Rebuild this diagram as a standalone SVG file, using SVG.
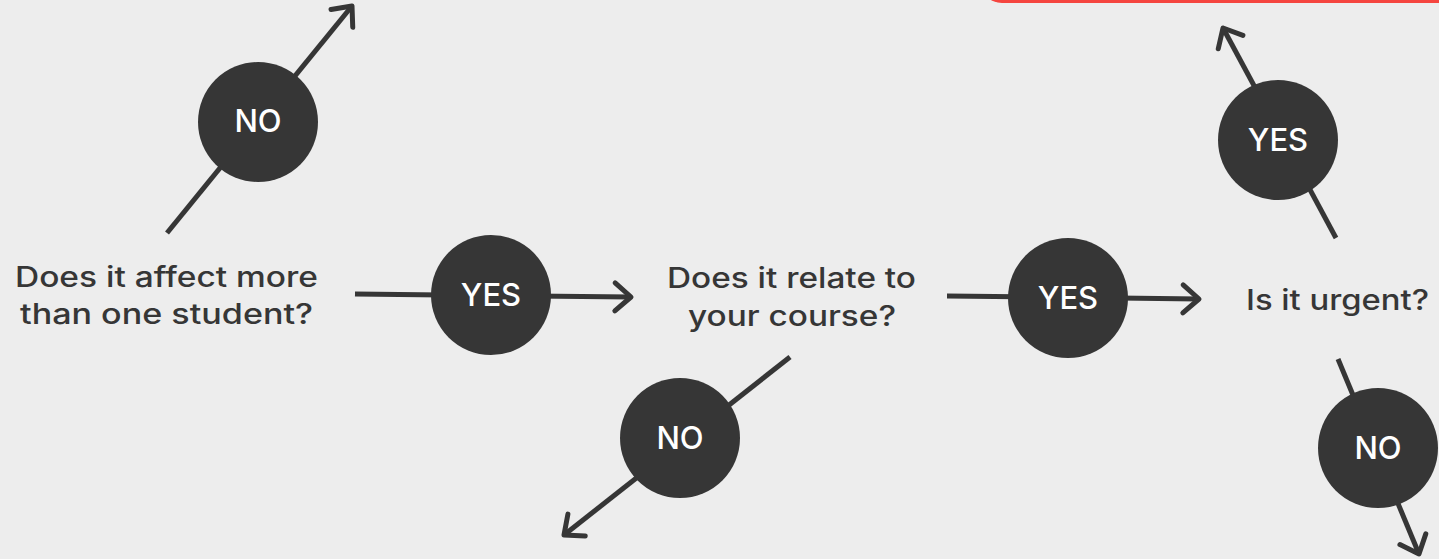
<svg xmlns="http://www.w3.org/2000/svg" width="1439" height="559" viewBox="0 0 1439 559">
<defs>
<style>
.q{font-family:Inter,"Open Sans","Liberation Sans",sans-serif;font-size:28px;fill:#363636;font-weight:500}
.b{fill:#363636}
.l{font-family:Inter,"Open Sans","Liberation Sans",sans-serif;font-size:31px;fill:#ffffff;text-anchor:middle;font-weight:500}
.c line{stroke:#363636;stroke-width:5;fill:none}
</style>
<marker id="ah" markerUnits="userSpaceOnUse" viewBox="-22 -18 26 36" refX="0" refY="0" markerWidth="26" markerHeight="36" orient="auto">
<path d="M-16,-14 L0,0 L-16,14" fill="none" stroke="#363636" stroke-width="5" stroke-linecap="round" stroke-linejoin="round"/>
</marker>
</defs>
<rect width="1439" height="559" fill="#ededed"/>
<rect id="redbox" x="980" y="-60" width="520" height="63" rx="22" fill="#f5453f"/>
<g class="c" id="connectors">
<line x1="167" y1="233" x2="352" y2="6" marker-end="url(#ah)"/>
<line x1="355" y1="294" x2="631" y2="297" marker-end="url(#ah)"/>
<line x1="947" y1="296" x2="1199" y2="299" marker-end="url(#ah)"/>
<line x1="790" y1="357" x2="564" y2="535" marker-end="url(#ah)"/>
<line x1="1336" y1="238" x2="1223" y2="28" marker-end="url(#ah)"/>
<line x1="1338" y1="359" x2="1419" y2="554" marker-end="url(#ah)"/>
</g>
<g id="q1"><text class="q" x="15" y="287" textLength="303" lengthAdjust="spacingAndGlyphs">Does it affect more</text><text class="q" x="20" y="324" textLength="293" lengthAdjust="spacingAndGlyphs">than one student?</text></g>
<g id="q2"><text class="q" x="667" y="288" textLength="249" lengthAdjust="spacingAndGlyphs">Does it relate to</text><text class="q" x="688" y="326" textLength="208" lengthAdjust="spacingAndGlyphs">your course?</text></g>
<g id="q3"><text class="q" x="1246" y="310" textLength="183" lengthAdjust="spacingAndGlyphs">Is it urgent?</text></g>
<g id="no1"><circle class="b" cx="258" cy="122" r="60"/><text class="l" x="258" y="132">NO</text></g>
<g id="yes1"><circle class="b" cx="491" cy="295" r="60"/><text class="l" x="491" y="306">YES</text></g>
<g id="no2"><circle class="b" cx="680" cy="438" r="60"/><text class="l" x="680" y="449">NO</text></g>
<g id="yes2"><circle class="b" cx="1068" cy="298" r="60"/><text class="l" x="1068" y="309">YES</text></g>
<g id="yes3"><circle class="b" cx="1278" cy="140" r="60"/><text class="l" x="1278" y="151">YES</text></g>
<g id="no3"><circle class="b" cx="1378" cy="448" r="60"/><text class="l" x="1378" y="459">NO</text></g>
</svg>
